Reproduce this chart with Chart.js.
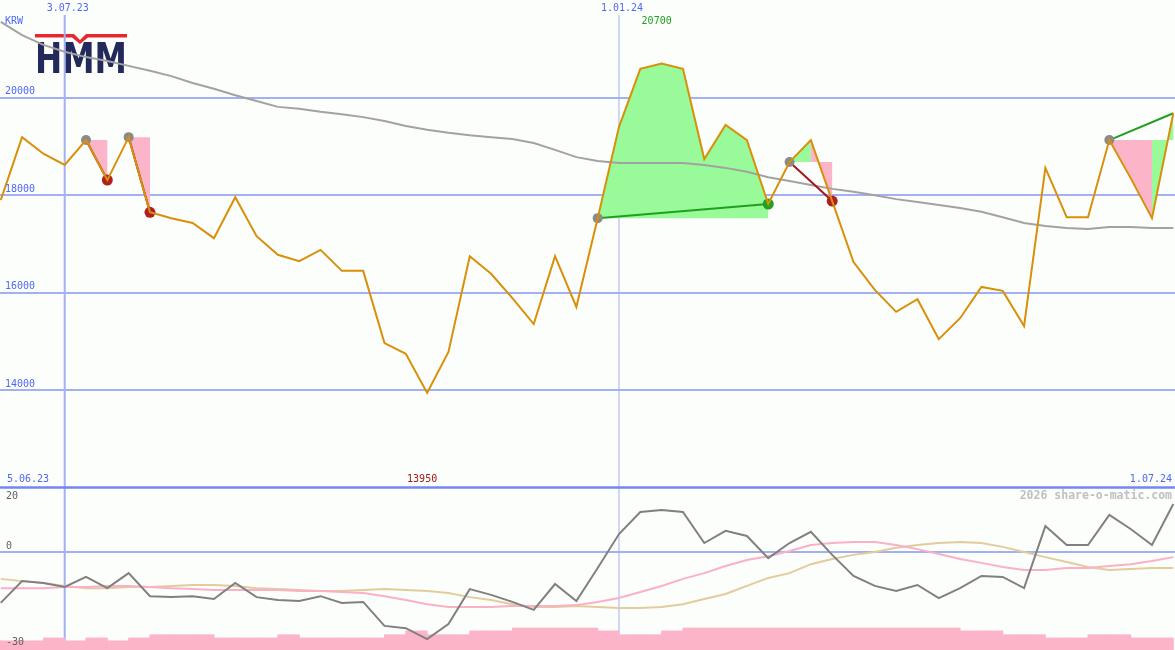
<!DOCTYPE html>
<html><head><meta charset="utf-8">
<script src="https://cdn.jsdelivr.net/npm/chart.js@4/dist/chart.umd.min.js"></script>
<style>html,body{margin:0;padding:0;background:#fcfefc;overflow:hidden}#wrap{width:1175px;height:650px;position:relative}canvas{display:block}</style>
</head><body><div id="wrap"><canvas id="c" width="1175" height="650"></canvas></div>
<script>
// week index relative to 3.07.23 (weekly closes)
const weeks = Array.from({length: 56}, (_, i) => i - 3);
const price = [17900,19190,18850,18620,19130,18310,19190,17650,17530,17430,17120,17960,17160,16780,16650,16880,16450,16450,14970,14750,13950,14790,16750,16390,15890,15360,16750,15710,17530,19400,20590,20700,20590,18740,19440,19130,17820,18680,19130,17880,16630,16060,15610,15870,15050,15480,16120,16040,15320,18560,17550,17550,19130,18350,17530,19680];
const maLong = [21550,21280,21080,20940,20830,20750,20650,20550,20440,20300,20180,20050,19930,19810,19770,19710,19660,19600,19520,19420,19340,19280,19230,19190,19150,19070,18930,18780,18700,18660,18660,18660,18660,18620,18560,18480,18370,18290,18210,18130,18070,18000,17920,17860,17800,17740,17660,17550,17430,17370,17330,17310,17350,17350,17330,17330];
const momentum = [-15.9,-9.1,-9.7,-10.9,-7.8,-11.3,-6.6,-13.8,-14.1,-13.8,-14.7,-9.7,-14.1,-15.0,-15.3,-13.8,-15.9,-15.6,-23.1,-23.8,-27.2,-22.5,-11.6,-13.4,-15.6,-18.1,-10.0,-15.3,-5.0,5.6,12.5,13.1,12.5,2.8,6.6,5.0,-1.9,2.8,6.3,-0.9,-7.5,-10.6,-12.2,-10.3,-14.4,-11.3,-7.5,-7.8,-11.3,8.1,2.2,2.2,11.6,7.2,2.2,15.0];
const signalPink = [-11.3,-11.3,-11.3,-10.9,-10.9,-10.6,-10.6,-10.9,-11.3,-11.6,-11.9,-11.9,-11.9,-11.9,-12.2,-12.2,-12.5,-12.8,-13.8,-15.0,-16.3,-17.2,-17.2,-17.2,-16.9,-16.9,-16.9,-16.6,-15.6,-14.4,-12.5,-10.6,-8.4,-6.6,-4.4,-2.5,-1.3,0.3,2.2,2.8,3.1,3.1,2.2,0.9,-0.6,-2.2,-3.4,-4.7,-5.6,-5.6,-5.0,-5.0,-4.4,-3.8,-2.8,-1.6];
const signalTan = [-8.4,-9.1,-9.7,-10.6,-11.3,-11.3,-10.9,-10.9,-10.6,-10.3,-10.3,-10.6,-11.3,-11.6,-11.9,-12.2,-12.2,-11.9,-11.6,-11.9,-12.2,-12.8,-14.1,-15.0,-16.3,-17.2,-17.2,-16.9,-17.2,-17.5,-17.5,-17.2,-16.3,-14.7,-13.1,-10.6,-8.1,-6.6,-3.8,-2.2,-0.9,0.0,1.3,2.2,2.8,3.1,2.8,1.6,0.0,-1.6,-3.1,-4.7,-5.6,-5.3,-5.0,-5.0];
const volumeLevel = [-27.8,-27.8,-27.8,-26.9,-27.8,-26.9,-27.8,-26.9,-25.9,-25.9,-25.9,-26.9,-26.9,-26.9,-25.9,-26.9,-26.9,-26.9,-26.9,-25.9,-24.7,-25.9,-25.9,-24.7,-24.7,-23.8,-23.8,-23.8,-23.8,-24.7,-25.9,-25.9,-24.7,-23.8,-23.8,-23.8,-23.8,-23.8,-23.8,-23.8,-23.8,-23.8,-23.8,-23.8,-23.8,-23.8,-24.7,-24.7,-25.9,-25.9,-26.9,-26.9,-25.9,-25.9,-26.9,-26.9];
// trades: entry / exit week (null = still open)
const trades = [{entry:1, exit:2},{entry:3, exit:4},{entry:25, exit:33},{entry:34, exit:36},{entry:49, exit:null}];
const priceTicks = [20000, 18000, 16000, 14000];
const lowerTicks = [20, 0, -30];
const lowerGrid = [0];
const dateLines = [{label:'3.07.23', week:0, w:2},{label:'1.01.24', week:26, w:1}];
const rangeStart = '5.06.23', rangeEnd = '1.07.24';
const currency = 'KRW';
const credit = '2026 share-o-matic.com';

const idx = w => weeks.indexOf(w);
const pts = arr => arr.map((v, i) => ({x: weeks[i], y: v}));
const lastW = weeks[weeks.length - 1];

const PINK = '#fbb4c8', GREEN = '#98fa98', BLUE = '#5068f0';

const tradeLineSets = trades.map(t => {
  const e = idx(t.entry), x = idx(t.exit === null ? lastW : t.exit);
  const win = price[x] > price[e];
  return {type:'line', data:[{x:weeks[e], y:price[e]},{x:weeks[x], y:price[x]}], yAxisID:'yP',
    borderColor: win ? '#20a020' : '#a01818', borderWidth:2, pointRadius:0, order:2};
});
const entryPts = trades.map(t => ({x:t.entry, y:price[idx(t.entry)]}));
const closed = trades.filter(t => t.exit !== null);
const exitPts = closed.map(t => ({x:t.exit, y:price[idx(t.exit)]}));
const exitCols = closed.map(t => price[idx(t.exit)] > price[idx(t.entry)] ? '#22a022' : '#b02020');

const deco = {
  id:'deco',
  beforeDatasetsDraw(chart){
    const {ctx} = chart, X = chart.scales.x, YP = chart.scales.yP, YL = chart.scales.yL;
    const W = chart.width;
    ctx.save();
    // logo
    ctx.fillStyle = '#e8262e';
    ctx.beginPath();
    ctx.moveTo(35,34);ctx.lineTo(74,34);ctx.lineTo(80,40);ctx.lineTo(86,34);ctx.lineTo(127,34);
    ctx.lineTo(127,37.5);ctx.lineTo(88,37.5);ctx.lineTo(80,44);ctx.lineTo(72,37.5);ctx.lineTo(35,37.5);ctx.closePath();ctx.fill();
    ctx.fillStyle = '#23295a';
    ctx.font = 'bold 42px "DejaVu Sans", sans-serif';
    const tw = ctx.measureText('HMM').width;
    ctx.save(); ctx.translate(35, 73); ctx.scale(92/tw, 1); ctx.textBaseline='alphabetic'; ctx.fillText('HMM', 0, 0); ctx.restore();
    // horizontal grid
    ctx.strokeStyle = '#a3b1f3'; ctx.lineWidth = 2;
    priceTicks.forEach(v => { const y = Math.round(YP.getPixelForValue(v)); ctx.beginPath(); ctx.moveTo(0,y); ctx.lineTo(W,y); ctx.stroke(); });
    lowerGrid.forEach(v => { const y = Math.round(YL.getPixelForValue(v)); ctx.beginPath(); ctx.moveTo(0,y); ctx.lineTo(W,y); ctx.stroke(); });
    // vertical date lines
    dateLines.forEach(d => { const x = X.getPixelForValue(d.week); ctx.lineWidth = d.w; ctx.beginPath(); ctx.moveTo(x,15); ctx.lineTo(x,650); ctx.stroke(); });
    // divider between panels
    const yDiv = YL.getPixelForValue(lowerTicks[0]) - 0.5;
    ctx.strokeStyle = '#7486f0'; ctx.lineWidth = 2.5;
    ctx.beginPath(); ctx.moveTo(0,yDiv); ctx.lineTo(W,yDiv); ctx.stroke();
    // trade fills: consecutive segments of the same colour joined into one polygon
    trades.forEach(t => {
      const e = idx(t.entry), end = idx(t.exit === null ? lastW : t.exit);
      const ey = YP.getPixelForValue(price[e]);
      let i = e;
      while (i < end) {
        const up = price[i+1] >= price[e];
        let j = i + 1;
        while (j < end && (price[j+1] >= price[e]) === up) j++;
        ctx.fillStyle = up ? GREEN : PINK;
        ctx.beginPath(); ctx.moveTo(X.getPixelForValue(weeks[i]), ey);
        for (let k = i; k <= j; k++) ctx.lineTo(X.getPixelForValue(weeks[k]), YP.getPixelForValue(price[k]));
        ctx.lineTo(X.getPixelForValue(weeks[j]), ey); ctx.closePath(); ctx.fill();
        i = j;
      }
    });
    ctx.restore();
  },
  afterDraw(chart){
    const {ctx} = chart, X = chart.scales.x, YP = chart.scales.yP, YL = chart.scales.yL;
    ctx.save();
    ctx.font = '10px "DejaVu Sans Mono", monospace';
    ctx.textBaseline = 'middle';
    ctx.fillStyle = BLUE; ctx.textAlign = 'left';
    ctx.fillText(currency, 5, 21);
    priceTicks.forEach(v => ctx.fillText(String(v), 5, YP.getPixelForValue(v) - 6));
    ctx.textAlign = 'center';
    dateLines.forEach(d => ctx.fillText(d.label, X.getPixelForValue(d.week) + 3, 8));
    const yBot = YL.getPixelForValue(lowerTicks[0]) - 9;
    ctx.textAlign = 'left'; ctx.fillText(rangeStart, 7, yBot);
    ctx.textAlign = 'right'; ctx.fillText(rangeEnd, 1172, yBot);
    // max / min
    const mx = Math.max(...price), mn = Math.min(...price);
    ctx.textAlign = 'center';
    ctx.fillStyle = '#20a020'; ctx.fillText(String(mx), X.getPixelForValue(weeks[price.indexOf(mx)]) - 5, 21);
    ctx.fillStyle = '#a01818'; ctx.fillText(String(mn), X.getPixelForValue(weeks[price.indexOf(mn)]) - 5, yBot);
    // lower labels
    ctx.fillStyle = '#606060'; ctx.textAlign = 'left';
    ctx.fillText(String(lowerTicks[0]), 6, 496);
    ctx.fillText(String(lowerTicks[1]), 6, YL.getPixelForValue(lowerTicks[1]) - 6);
    ctx.fillText(String(lowerTicks[2]), 6, 642);
    ctx.font = 'bold 11.5px "DejaVu Sans Mono", monospace';
    ctx.fillStyle = '#c0c0c0'; ctx.textAlign = 'right';
    ctx.fillText(credit, 1172, 496);
    ctx.restore();
  }
};

new Chart(document.getElementById('c'), {
  type:'line',
  data:{datasets:[
    {data:pts(price), yAxisID:'yP', borderColor:'#d8900a', borderWidth:2, pointRadius:0, tension:0, order:0},
    {type:'scatter', data:entryPts, yAxisID:'yP', pointRadius:5, pointBackgroundColor:'#8a8a8a', pointBorderWidth:0, order:1},
    {type:'scatter', data:exitPts, yAxisID:'yP', pointRadius:5.5, pointBackgroundColor:exitCols, pointBorderWidth:0, order:1},
    ...tradeLineSets,
    {data:pts(maLong), yAxisID:'yP', borderColor:'#a2a2a2', borderWidth:2, pointRadius:0, order:3},
    {data:pts(momentum), yAxisID:'yL', borderColor:'#808080', borderWidth:2, pointRadius:0, order:4},
    {data:pts(signalPink), yAxisID:'yL', borderColor:'#fbb0c6', borderWidth:2, pointRadius:0, order:5},
    {data:pts(signalTan), yAxisID:'yL', borderColor:'#e2cc9c', borderWidth:2, pointRadius:0, order:6},
    {type:'bar', data:volumeLevel.map((v,i)=>({x:weeks[i]-0.5, y:[-32, v]})), yAxisID:'yL', backgroundColor:PINK,
      borderWidth:0, barPercentage:1, categoryPercentage:1, inflateAmount:0.5, order:7}
  ]},
  options:{
    responsive:false, animation:false, events:[],
    layout:{padding:0, autoPadding:false},
    plugins:{legend:{display:false}, tooltip:{enabled:false}},
    scales:{
      x:{type:'linear', min:-3.035, max:52.08, display:false, offset:false},
      yP:{type:'linear', min:8681.5, max:22000, display:false},
      yL:{type:'linear', min:-30.625, max:172.5, display:false}
    }
  },
  plugins:[deco]
});
</script></body></html>
